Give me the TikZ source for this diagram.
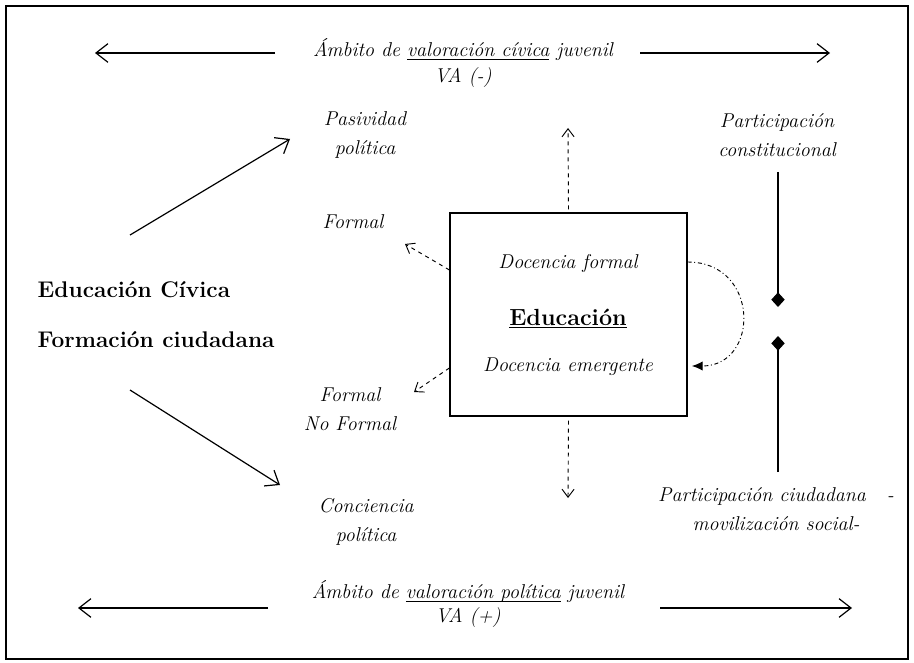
\documentclass[tikz,border=0pt]{standalone}
\usepackage{fontspec}
\usetikzlibrary{arrows.meta}
\newcommand{\undl}[1]{\underline{\smash{#1}}}

\begin{document}
\begin{tikzpicture}[x=0.75pt,y=-0.75pt,
  lbl/.style={font=\fontsize{15}{22}\selectfont\itshape,align=center},
  big/.style={font=\fontsize{17}{20}\selectfont\bfseries},
  open/.style={line width=0.9pt,-{Straight Barb[length=9pt,width=14pt]}},
  small/.style={line width=0.7pt,dashed,-{Straight Barb[length=6pt,width=9pt]}}]
\useasboundingbox (0,0) rectangle (914,663);
\draw[line width=2.2pt] (6,6) rectangle (908,659);

% ambitos
\node[lbl] (civ) at (463,50) {Ámbito de \undl{valoración cívica} juvenil};
\node[lbl] (vaneg) at (463,78) {VA (-)};
\node[lbl] (pol) at (468,592) {Ámbito de \undl{valoración política} juvenil};
\node[lbl] (vapos) at (468,618) {VA (+)};
\coordinate (civL) at (275,53); \coordinate (civLt) at (95,53);
\coordinate (civR) at (640,53); \coordinate (civRt) at (830,53);
\coordinate (polL) at (268,608); \coordinate (polLt) at (78,608);
\coordinate (polR) at (660,608); \coordinate (polRt) at (852,608);
\draw[open] (civL) -- (civLt);
\draw[open] (civR) -- (civRt);
\draw[open] (polL) -- (polLt);
\draw[open] (polR) -- (polRt);

% izquierda
\node[big,anchor=west] (civica) at (33,290) {Educación Cívica};
\node[big,anchor=west] (ciudadana) at (33,340) {Formación ciudadana};
\node[lbl] (pasiv) at (365,135) {Pasividad\\política};
\node[lbl] (concien) at (366,522) {Conciencia\\política};
\coordinate (upS) at (130,235); \coordinate (upE) at (290,139);
\coordinate (dnS) at (130,390); \coordinate (dnE) at (280,485);
\draw[open] (upS) -- (upE);
\draw[open] (dnS) -- (dnE);

% educacion
\node[draw,line width=0.9pt,minimum width=177.75pt,minimum height=152.25pt] (edu) at (568.5,314.5) {};
\node[lbl] (docf) at (568,263) {Docencia formal};
\node[font=\fontsize{17.5}{20}\selectfont\bfseries,anchor=base] (educ) at (568,325) {\undl{Educación}};
\node[lbl] (doce) at (568,367) {Docencia emergente};
\node[lbl] (formal) at (353,222) {Formal};
\node[lbl] (noformal) at (350,409) {Formal\\No Formal};
\coordinate (eduN) at (568,128); \coordinate (eduS) at (568,498);
\coordinate (fA) at (405,244); \coordinate (fB) at (414,392);
\draw[small] (edu.north) ++(0,-3) -- (eduN);
\draw[small] (edu.south) ++(0,4) -- (eduS);
\draw[small] (edu.west |- 0,270) -- (fA);
\draw[small] (edu.west |- 0,368) -- (fB);
\draw[line width=0.7pt,dash dot,-{Latex[length=8pt,width=7pt]}] (edu.east |- 0,262)
  .. controls (760,262) and (760,366) .. (692,366);

% participacion
\node[lbl] (pconst) at (777,135) {Participación\\constitucional};
\node[lbl] (pciud) at (776,509) {Participación ciudadana \ \ -\\movilización social-};
\coordinate (dA) at (778,307); \coordinate (dB) at (778,336);
\draw[line width=0.9pt,-{Diamond[length=11pt,width=10pt]}] (778,172) -- (dA);
\draw[line width=0.9pt,-{Diamond[length=11pt,width=10pt]}] (778,472) -- (dB);
\end{tikzpicture}
\end{document}
